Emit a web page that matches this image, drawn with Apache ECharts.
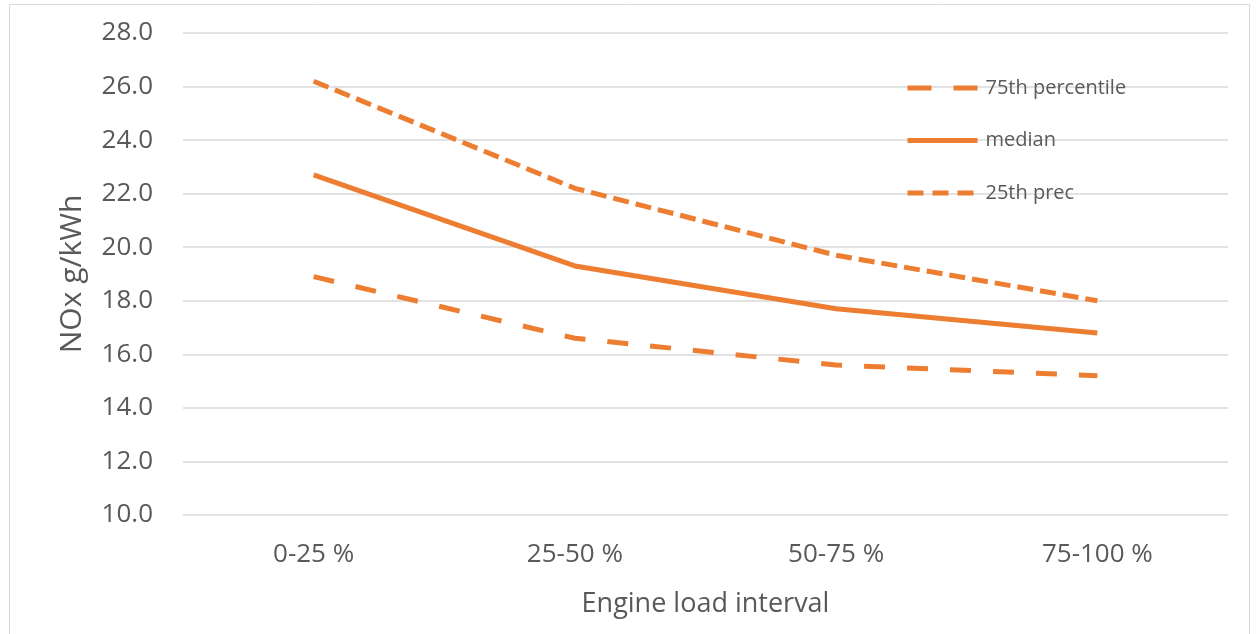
<!DOCTYPE html>
<html>
<head>
<meta charset="utf-8">
<script src="https://cdn.jsdelivr.net/npm/echarts@6/dist/echarts.min.js"></script>
<style>
  html, body { margin: 0; padding: 0; background: #ffffff; }
  #chart { width: 1259px; height: 634px; }
</style>
</head>
<body>
<div id="chart"></div>
<script>
// Engine load intervals (x-axis categories)
const categories = ['0-25 %', '25-50 %', '50-75 %', '75-100 %'];

// NOx emission factors, g/kWh
const p75 = [26.2, 22.2, 19.7, 18.0];
const median = [22.7, 19.3, 17.7, 16.8];
const p25 = [18.9, 16.6, 15.6, 15.2];

const seriesNames = ['75th percentile', 'median', '25th prec'];

// Value axis range
const yMin = 10;
const yMax = 28;
const yStep = 2;

const ORANGE = '#ED7D31';
const TEXT = '#595959';
const GRID = '#D9D9D9';
const FONT = '"Open Sans", "Noto Sans", sans-serif';

const chart = echarts.init(document.getElementById('chart'), null, { renderer: 'canvas' });

// legend entries show only the line stroke, no marker dot
const hiddenDot = { opacity: 0 };

chart.setOption({
  backgroundColor: '#ffffff',
  animation: false,
  graphic: [{
    type: 'rect',
    shape: { x: 9.5, y: 4.5, width: 1240, height: 660 },
    style: { fill: 'none', stroke: GRID, lineWidth: 1 },
    silent: true
  }],
  grid: { left: 183, right: 31, top: 33, bottom: 119, containLabel: false },
  legend: {
    orient: 'vertical',
    left: 905,
    top: 78,
    padding: 0,
    itemWidth: 70,
    itemHeight: 20,
    itemGap: 32.5,
    itemStyle: hiddenDot,
    textStyle: { color: TEXT, fontFamily: FONT, fontSize: 20, padding: [0, 0, 0, 3] },
    data: [
      { name: seriesNames[0], itemStyle: hiddenDot, lineStyle: { type: [24, 22], width: 5, color: ORANGE } },
      { name: seriesNames[1], itemStyle: hiddenDot, lineStyle: { type: 'solid', width: 5, color: ORANGE } },
      { name: seriesNames[2], itemStyle: hiddenDot, lineStyle: { type: [16, 9], width: 5, color: ORANGE } }
    ]
  },
  xAxis: {
    type: 'category',
    data: categories,
    boundaryGap: true,
    axisLine: { show: false },
    axisTick: { show: false },
    axisLabel: { color: TEXT, fontFamily: FONT, fontSize: 26, margin: 27 },
    name: 'Engine load interval',
    nameLocation: 'middle',
    nameGap: 76,
    nameTextStyle: { color: TEXT, fontFamily: FONT, fontSize: 27 }
  },
  yAxis: {
    type: 'value',
    min: yMin,
    max: yMax,
    interval: yStep,
    axisLine: { show: false },
    axisTick: { show: false },
    splitLine: { lineStyle: { color: GRID, width: 1.5 } },
    axisLabel: {
      color: TEXT, fontFamily: FONT, fontSize: 26, margin: 30,
      formatter: v => v.toFixed(1)
    },
    name: 'NOx g/kWh',
    nameLocation: 'middle',
    nameGap: 96,
    nameTextStyle: { color: TEXT, fontFamily: FONT, fontSize: 30 }
  },
  series: [
    {
      name: seriesNames[0], type: 'line', data: p75, symbol: 'none',
      lineStyle: { color: ORANGE, width: 5, type: [16, 7], join: 'round' },
      itemStyle: { color: ORANGE }
    },
    {
      name: seriesNames[1], type: 'line', data: median, symbol: 'none',
      lineStyle: { color: ORANGE, width: 5, type: 'solid', join: 'round' },
      itemStyle: { color: ORANGE }
    },
    {
      name: seriesNames[2], type: 'line', data: p25, symbol: 'none',
      lineStyle: { color: ORANGE, width: 5, type: [21, 22], join: 'round' },
      itemStyle: { color: ORANGE }
    }
  ]
});
</script>
</body>
</html>
